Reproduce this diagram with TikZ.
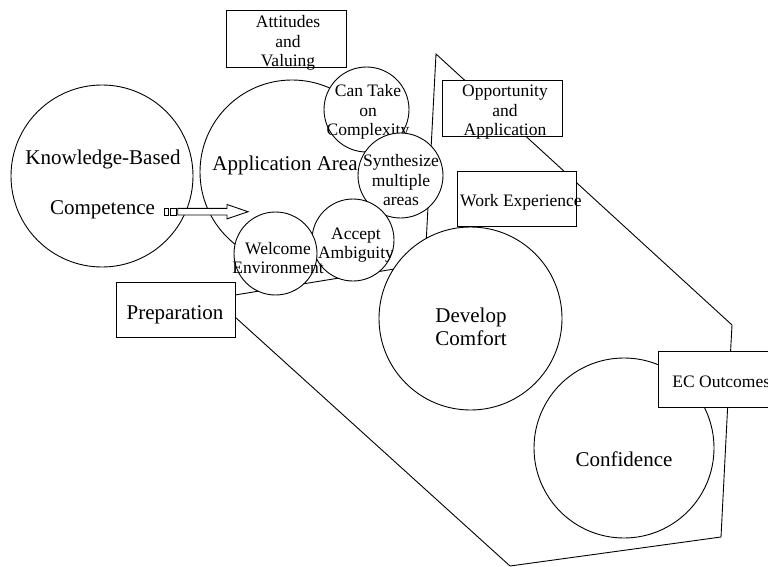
\documentclass[tikz,border=0pt]{standalone}
\usepackage{fontspec}
\setmainfont{Liberation Serif}
\begin{document}
\begin{tikzpicture}[x=1pt,y=-1pt,
  line width=0.9pt,
  bigtxt/.style={font=\fontsize{21}{23}\selectfont, align=center, inner sep=0pt},
  smalltxt/.style={font=\fontsize{17.5}{19.5}\selectfont, align=center, inner sep=0pt},
  ring/.style={circle, draw, fill=white, inner sep=0pt},
  boxnode/.style={rectangle, draw, fill=white, inner sep=0pt},
  outline/.style={draw, line join=miter}]
\useasboundingbox (0,0) rectangle (768,567);
\clip (0,0) rectangle (768,567);

% outer polygon
\coordinate (p1) at (235,295);
\coordinate (p2) at (425,264);
\coordinate (p3) at (436,54);
\coordinate (p4) at (732,325);
\coordinate (p5) at (729,380);
\coordinate (p6) at (721,537);
\coordinate (p7) at (510,566);
\coordinate (p8) at (235,317);
\draw[outline] (p1) -- (p2) -- (p3) -- (p4) -- (p5) -- (p6) -- (p7) -- (p8) -- cycle;

% big left circles
\node[ring, minimum size=184pt] (app) at (292,172) {};
\node[bigtxt] (appt) at (285,165) {Application Area};
\node[ring, minimum size=182pt] (kb) at (102,176) {};
\node[bigtxt] (kbt1) at (103,159) {Knowledge-Based};
\node[bigtxt] (kbt2) at (102.5,210) {Competence};

% small circles
\node[ring, minimum size=85pt] (cto) at (366.5,109.5) {};
\node[smalltxt] (ctot) at (368,112) {Can Take\\on\\Complexity};
\node[ring, minimum size=85pt] (syn) at (400.5,175.5) {};
\node[smalltxt] (synt) at (401,180.5) {Synthesize\\multiple\\areas};
\node[ring, minimum size=82pt] (acc) at (353,240) {};
\node[smalltxt] (acct) at (356,245) {Accept\\Ambiguity};
\node[ring, minimum size=83pt] (wel) at (275.5,253.5) {};
\node[smalltxt] (welt) at (278,258) {Welcome\\Environment};

% right circles
\node[ring, minimum size=183pt] (dev) at (470.5,318.5) {};
\node[bigtxt] (devt) at (471,326.5) {Develop\\Comfort};
\node[ring, minimum size=180pt] (con) at (624,448) {};
\node[bigtxt] (cont) at (624,459.5) {Confidence};

% boxes
\node[boxnode, minimum width=120pt, minimum height=57pt] (att) at (286,38.5) {};
\node[smalltxt] (attt) at (288,43.3) {Attitudes\\and\\Valuing};
\node[boxnode, minimum width=120pt, minimum height=56pt] (opp) at (502,108) {};
\node[smalltxt] (oppt) at (505,112.5) {Opportunity\\and\\Application};
\node[boxnode, minimum width=119pt, minimum height=55pt] (work) at (516.5,198.5) {};
\node[smalltxt] (workt) at (521,202) {Work Experience};
\node[boxnode, minimum width=119pt, minimum height=55pt] (prep) at (175.5,309.5) {};
\node[bigtxt] (prept) at (175,315) {Preparation};
\node[boxnode, minimum width=130pt, minimum height=56pt, anchor=north west] (ec) at (658,351) {};
\node[smalltxt, anchor=west] (ect) at (672,382) {EC Outcomes};

% striped block arrow
\draw[fill=white] (164.3,208.3) rectangle (168.3,215);
\draw[fill=white] (170,208.3) rectangle (176,215);
\draw[fill=white, line join=miter] (177.7,208.3) -- (227,208.3) -- (227,204.5) -- (248,211.7)
  -- (227,218.9) -- (227,215) -- (177.7,215) -- cycle;
\end{tikzpicture}
\end{document}
